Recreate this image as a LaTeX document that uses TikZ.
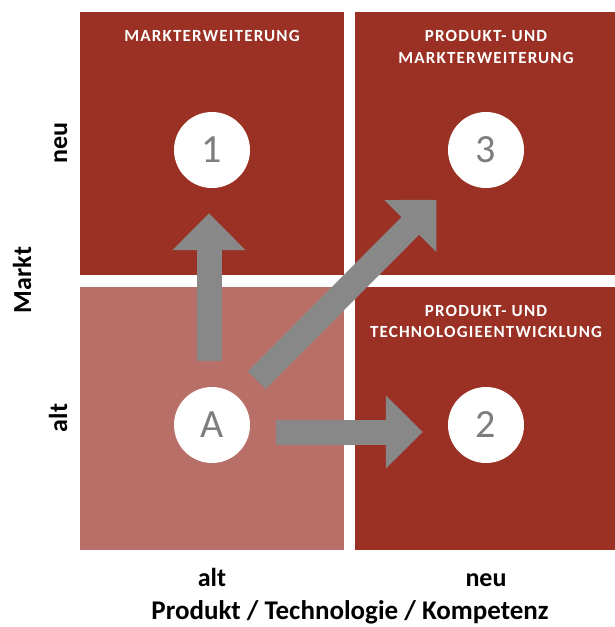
\documentclass[tikz,border=0pt]{standalone}
\usepackage{fontspec}
\setmainfont{Carlito}
\newfontfamily\titlefont[LetterSpace=7]{Carlito}
\usetikzlibrary{arrows.meta}
\definecolor{fieldred}{RGB}{154,49,36}
\definecolor{startred}{RGB}{184,111,103}
\definecolor{movegray}{RGB}{136,136,136}
\definecolor{numgray}{RGB}{125,125,125}

\begin{document}
\begin{tikzpicture}[x=1pt, y=-1pt,
	field/.style={fill=fieldred},
	title/.style={text=white, font=\titlefont\bfseries\fontsize{17}{21.5}\selectfont, align=center},
	state/.style={circle, fill=white, minimum size=76pt, inner sep=0pt, text=numgray, font=\fontsize{40}{40}\selectfont},
	axis/.style={black, font=\bfseries\fontsize{26}{30}\selectfont, anchor=base},
	move/.style={draw=movegray, line width=25pt, -{Triangle[length=37pt, width=71pt]}}]
	\useasboundingbox (0,0) rectangle (615,627);

	% Fields
	\fill[field] (80,12) rectangle (344,275);
	\fill[field] (355,12) rectangle (615,275);
	\fill[startred] (80,287) rectangle (344,550);
	\fill[field] (355,287) rectangle (615,550);

	%% Titles
	\node[title] (t1) at (212,36) {MARKTERWEITERUNG};
	\node[title] (t3) at (486,47) {PRODUKT- UND\\MARKTERWEITERUNG};
	\node[title] (t2) at (486,321.5) {PRODUKT- UND\\TECHNOLOGIEENTWICKLUNG};

	%% States
	\node[state] (A) at (212,425) {A};
	\node[state] (one) at (212,150) {1};
	\node[state] (two) at (486,425) {2};
	\node[state] (three) at (486,150) {3};

	%% Moves
	\draw[move, shorten <=26pt, shorten >=25pt] ([xshift=-3pt]A.north) -- ([xshift=-3pt]one.south);
	\draw[move, shorten <=26pt, shorten >=25pt] ([yshift=-7pt]A.east) -- ([yshift=-7pt]two.west);
	\draw[move, shorten <=25pt, shorten >=32pt] (A) -- (three);

	%% Axis
	\node[axis, rotate=90] (yneu) at (67,143) {neu};
	\node[axis, rotate=90] (yalt) at (67,418) {alt};
	\node[axis, rotate=90] (ytitle) at (31,280) {Markt};
	\node[axis] (xalt) at (212,586) {alt};
	\node[axis] (xneu) at (486,586) {neu};
	\node[axis, font=\bfseries\fontsize{27}{30}\selectfont] (xtitle) at (350,619) {Produkt / Technologie / Kompetenz};

\end{tikzpicture}
\end{document}
